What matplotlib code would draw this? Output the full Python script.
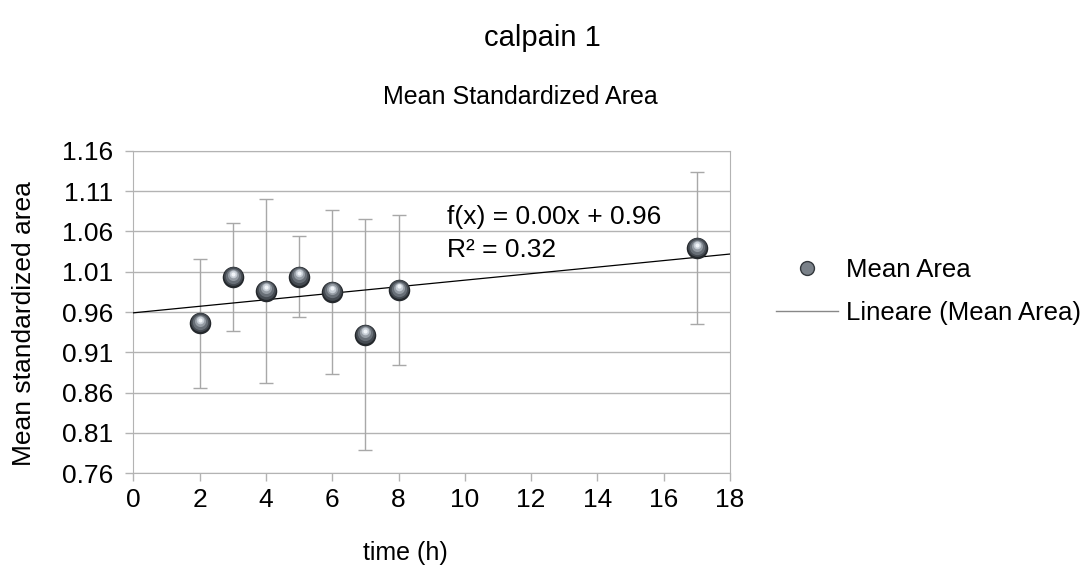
import numpy as np
import matplotlib
matplotlib.use("Agg")
import matplotlib.pyplot as plt
from matplotlib.lines import Line2D
from matplotlib.transforms import ScaledTranslation

plt.rcParams['font.family'] = ['Liberation Sans', 'DejaVu Sans']

# data
time_h = [2, 3, 4, 5, 6, 7, 8, 17]
mean_area = [0.946, 1.003, 0.9865, 1.004, 0.985, 0.932, 0.987, 1.039]
err = [0.080, 0.067, 0.114, 0.050, 0.1015, 0.143, 0.093, 0.094]
y_ticks = [0.76, 0.81, 0.86, 0.91, 0.96, 1.01, 1.06, 1.11, 1.16]
x_ticks = [0, 2, 4, 6, 8, 10, 12, 14, 16, 18]
fit_lines = ["f(x) = 0.00x + 0.96", "R² = 0.32"]

fig = plt.figure(figsize=(10.85, 5.77), dpi=100)
ax = fig.add_axes([0.1229, 0.1797, 0.55, 0.5591])

grid_col = '#b3b3b3'
for v in y_ticks:
    ax.axhline(v, color=grid_col, linewidth=1.0, zorder=0)

# error bars
ax.errorbar(time_h, mean_area, yerr=err, fmt='none', ecolor='#a8a8a8',
            elinewidth=1.0, capsize=5.3, capthick=1.0, zorder=2)

# linear trend line
slope, icpt = np.polyfit(time_h, mean_area, 1)
xs = np.array([0, 18])
ax.plot(xs, slope * xs + icpt, color='black', linewidth=0.9, zorder=3)

# fake shaded spheres: stacked circles, lighter towards the top
layers = [(15.5, '#24282c', 0.0), (13.5, '#454b52', 0.6),
          (11, '#686f77', 1.2), (8, '#959ca4', 1.8),
          (5.5, '#c6cdd5', 2.3), (3, '#f0f4f8', 2.7)]
for ms, col, dy in layers:
    tr = ax.transData + ScaledTranslation(0, dy / 72, fig.dpi_scale_trans)
    ax.plot(time_h, mean_area, linestyle='none', marker='o', markersize=ms,
            color=col, markeredgewidth=0, transform=tr, zorder=4)

ax.set_xlim(0, 18)
ax.set_ylim(0.76, 1.16)
ax.set_xticks(x_ticks)
ax.set_yticks(y_ticks)
ax.set_yticklabels(['%.2f' % v for v in y_ticks])
ax.tick_params(axis='both', labelsize=19, color=grid_col, length=5.8, width=1.0)
ax.tick_params(axis='y', pad=8.6)
ax.tick_params(axis='x', pad=4.5)
for s in ax.spines.values():
    s.set_color(grid_col)

ax.text(9.46, 1.0778, fit_lines[0], fontsize=19, va='center', ha='left', zorder=5)
ax.text(9.46, 1.0369, fit_lines[1], fontsize=19, va='center', ha='left', zorder=5)

fig.text(405 / 1085, 1 - 553 / 577, "time (h)", fontsize=18, ha='center', va='center')
fig.text(24 / 1085, 1 - 324 / 577, "Mean standardized area", fontsize=19,
         rotation=90, ha='center', va='center')

fig.text(0.5, 0.935, "calpain 1", fontsize=21, ha='center', va='center')
fig.text(520 / 1085, 0.832, "Mean Standardized Area", fontsize=18,
         ha='center', va='center')

handles = [Line2D([], [], linestyle='none', marker='o', markersize=10,
                  color='#7a8189', markeredgecolor='#33383d'),
           Line2D([], [], color='#888888', linewidth=1.0)]
fig.legend(handles, ['Mean Area', 'Lineare (Mean Area)'], loc='center left',
           bbox_to_anchor=(0.7154, 0.495), frameon=False, fontsize=18.5,
           handlelength=2.4, handletextpad=0.3, labelspacing=0.72,
           borderaxespad=0, borderpad=0)

fig.savefig("out.png", dpi=100)
